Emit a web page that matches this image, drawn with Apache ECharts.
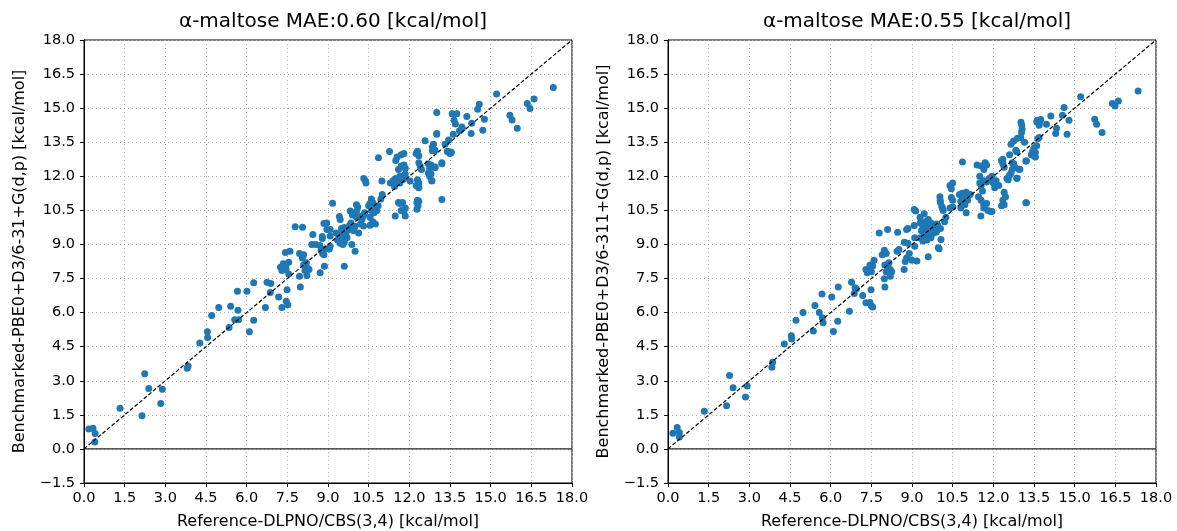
<!DOCTYPE html>
<html>
<head>
<meta charset="utf-8">
<script src="https://cdn.jsdelivr.net/npm/echarts@6/dist/echarts.min.js"></script>
<style>
html,body{margin:0;padding:0;background:#fff;}
#chart{width:1177px;height:531px;}
</style>
</head>
<body>
<div id="chart"></div>
<script>
const titles = ["α-maltose MAE:0.60 [kcal/mol]", "α-maltose MAE:0.55 [kcal/mol]"];
const xName = "Reference-DLPNO/CBS(3,4) [kcal/mol]";
const yNames = ["Benchmarked-PBE0+D3/6-31+G(d,p) [kcal/mol]", "Benchmarked-PBE0+D3/6-311+G(d,p) [kcal/mol]"];
const axisMinX = 0, axisMaxX = 18, axisMinY = -1.5, axisMaxY = 18, tickStep = 1.5;
const diagonal = [[0, 0], [18, 18]];
const zeroLine = [[0, 0], [18, 0]];

const pointsLeft = [
[0.18,0.88],[0.33,0.91],[0.41,0.68],[0.40,0.30],[1.33,1.79],[2.14,1.46],[2.24,3.31],[2.39,2.66],[2.89,2.63],[2.83,2.00],
[3.81,3.55],[3.84,3.65],[4.27,4.66],[4.55,5.16],[4.56,4.91],[4.71,5.87],[4.97,6.23],[5.35,5.35],[5.41,6.28],[5.56,5.69],
[5.68,6.10],[5.70,5.69],[5.66,6.94],[6.01,6.94],[6.10,5.16],
[6.26,7.31],[6.26,5.66],[6.69,6.23],[6.75,7.34],[6.89,7.28],[6.87,6.89],[7.18,6.69],[7.30,6.23],[7.46,6.50],[7.49,7.01],[7.52,6.35],
[7.25,8.0],[7.35,8.15],[7.45,8.1],[7.3,7.85],[7.45,7.9],[7.55,7.7],[7.55,8.22],[7.43,8.65],[7.6,8.7],
[7.79,9.78],[8.06,9.76],[7.95,8.6],[8.1,8.55],[8.05,8.4],
[8.1,8.1],[8.2,8.2],[8.25,7.95],[8.3,7.9],[8.15,7.85],
[7.95,7.6],[8.22,7.63],[7.98,7.13],
[8.4,9.0],[8.55,9.0],[8.7,8.95],[8.44,9.44],
[8.75,8.75],[8.9,8.8],[8.8,8.6],[8.85,8.55],[9.05,8.8],
[8.71,7.75],[8.87,8.04],[8.79,9.26],[8.79,9.35],[8.85,9.92],[8.95,9.95],[8.96,9.66],
[9.17,10.81],[9.42,10.23],[9.45,10.1],
[9.5,9.7],[9.55,9.6],[9.6,9.75],[9.7,9.6],[9.75,9.65],[9.65,9.45],[9.8,9.85],[9.85,9.95],
[9.6,8.04],[9.88,9.0],[10.0,8.7],[10.13,9.51],[9.9,10.3],[10.05,10.2],[10.05,10.75],[10.1,10.65],[10.25,10.25],[10.2,9.9],
[9.3,9.5],[9.4,9.4],[9.5,9.3],[9.35,9.2],[9.45,9.05],[9.6,9.1],[9.7,9.3],[9.95,9.6],[10.0,9.8],[9.55,9.0],[9.08,9.66],[9.08,9.37],[9.08,8.92],
[10.31,9.81],[10.3,10.25],[10.35,10.4],[10.25,10.1],[10.05,10.45],[9.82,10.47],
[10.32,11.9],[10.4,11.7],[10.38,11.8],
[10.6,11.0],[10.55,10.8],[10.65,10.85],[10.5,10.7],[10.6,10.5],[10.75,10.6],[10.7,10.4],[10.8,10.5],[10.85,10.7],[11.0,11.2],[10.95,11.0],
[10.55,10.2],[10.65,10.0],[10.75,9.9],[10.55,9.85],
[10.99,11.79],[10.86,12.82],[11.27,13.09],
[11.5,12.7],[11.55,12.85],[11.7,12.95],[11.8,13.0],
[11.6,12.3],[11.7,12.45],[11.8,12.5],[11.85,12.35],
[11.3,11.7],[11.4,11.8],[11.5,11.9],[11.55,11.75],[11.65,11.7],[11.45,11.55],[11.65,12.0],[11.75,11.85],[11.8,11.9],[11.85,12.1],
[11.6,10.85],[11.65,10.8],[11.7,10.5],[11.8,10.45],[11.85,10.6],[11.75,10.85],
[11.48,10.25],[11.85,10.25],[12.03,11.79],
[12.25,13.0],[12.3,13.1],[12.35,12.9],
[12.35,12.6],[12.4,12.45],[12.45,12.3],
[12.3,11.85],[12.35,11.7],[12.25,11.6],[12.35,11.5],[12.32,11.55],
[12.3,10.95],[12.35,10.9],[12.28,10.85],[12.32,10.7],[12.28,10.55],
[12.58,13.56],[12.85,13.12],[12.95,13.15],
[12.7,12.55],[12.8,12.5],[12.75,12.35],[12.7,12.15],[12.8,12.1],[12.75,12.0],
[12.83,11.79],[12.95,12.38],[13.01,13.85],[12.89,13.41],[13.2,10.98],[13.2,12.6],
[13.4,13.1],[13.5,13.0],[13.55,13.05],[13.45,13.6],[13.7,14.3],[13.85,14.0],[13.95,14.1],
[17.31,15.91],[16.6,15.4],[16.35,15.2],[16.45,14.98],[15.71,14.69],[15.79,14.48],[15.98,14.12],[15.22,15.62],[14.58,15.17],[14.52,14.95],
[14.77,14.51],[14.71,14.03],[14.3,14.34],[14.28,13.88],[14.12,14.63],[13.94,14.17],[13.01,14.81],[13.58,14.75],[13.75,14.75],[13.65,14.47],
[13.62,13.85],[13.01,13.88],[13.32,13.41],[12.85,13.3],[13.43,13.07],[13.53,13.07],[13.2,12.55],[12.95,12.41],[12.83,11.82]
];

const pointsRight = [
[0.18,0.69],[0.34,0.94],[0.42,0.72],[0.42,0.53],[1.34,1.66],[2.16,1.90],[2.27,3.23],[2.40,2.69],[2.92,2.77],[2.86,2.29],
[3.83,3.60],[3.86,3.81],[4.29,4.62],[4.55,4.98],[4.56,4.84],[4.72,5.66],[4.98,6.01],[5.36,5.19],[5.42,6.31],[5.58,6.01],
[5.69,5.77],[5.72,5.55],[5.68,6.82],[6.04,6.69],[6.10,5.17],
[6.28,7.13],[6.26,5.62],[6.69,6.06],[6.77,7.34],[6.9,7.1],[6.95,7.05],[6.87,6.84],[7.18,6.75],[7.30,6.43],[7.45,6.45],[7.5,6.3],[7.55,6.25],[7.49,7.01],
[7.3,7.9],[7.4,7.85],[7.45,8.1],[7.55,8.05],[7.35,7.75],[7.5,7.8],[7.6,8.3],
[7.79,9.51],[8.1,9.66],[7.9,8.55],[8.05,8.6],[7.98,8.75],
[8.0,8.1],[8.1,8.0],[8.2,7.9],[8.25,7.8],[8.15,8.2],[8.2,7.6],[8.05,7.8],
[7.98,7.49],[8.0,7.13],[8.47,9.54],[8.45,8.7],[8.52,8.78],[8.72,9.1],[8.85,9.05],[8.71,7.9],[8.8,9.66],[8.85,9.7],
[8.8,8.4],[8.75,8.25],[8.9,8.6],[9.0,8.3],[9.08,9.84],[9.18,8.27],[9.14,10.47],
[9.3,10.2],[9.45,10.35],[9.6,10.1],[9.5,10.0],
[9.4,9.7],[9.5,9.75],[9.6,9.6],[9.75,9.7],[9.65,9.45],[9.85,9.8],[9.9,9.9],[9.8,9.5],
[9.6,8.46],[10.0,8.81],[10.1,10.67],[10.15,10.5],[10.12,10.6],[10.2,10.0],[10.25,10.2],
[9.08,10.54],[9.1,9.29],[9.1,8.92],
[9.3,9.95],[9.4,9.85],[9.5,9.9],[9.6,10.0],[9.7,9.95],[9.35,9.6],[9.5,9.65],[9.65,9.7],[9.75,9.75],[9.85,9.8],
[9.95,9.85],[10.05,9.7],[9.45,9.4],[9.6,9.45],[9.75,9.5],[9.9,9.55],[9.3,9.3],[9.4,9.15],[9.55,9.2],[9.7,9.3],
[9.97,8.85],[10.07,9.22],
[10.05,10.85],[10.03,11.1],[10.04,10.95],
[10.4,10.6],[10.5,10.65],[10.4,11.6],[10.45,11.45],[10.5,11.7],[10.45,11.07],[10.5,10.95],
[10.75,11.2],[10.85,11.25],[10.8,10.9],
[10.86,12.63],[10.8,10.6],[10.95,10.75],[10.9,11.0],
[11.0,11.3],[10.95,11.1],[11.05,10.95],[11.15,11.2],[11.0,10.4],
[11.4,12.5],[11.55,12.45],[11.7,12.6],[11.65,12.3],[11.75,12.5],[11.5,12.0],[11.85,11.9],
[11.5,11.7],[11.55,11.6],[11.65,11.8],[11.75,11.75],[11.6,11.35],[11.45,11.1],[11.55,10.95],[11.65,10.75],[11.75,10.8],[11.65,10.6],
[11.54,10.25],[11.8,10.5],[11.9,10.45],[11.95,10.45],
[12.0,11.7],[11.95,12.0],[12.1,11.8],[12.05,11.5],[12.2,11.6],
[12.3,12.7],[12.35,12.55],[12.4,12.4],[12.35,12.75],
[12.4,11.3],[12.45,11.1],[12.35,10.95],[12.4,10.75],[12.3,10.7],
[12.5,11.9],[12.6,12.05],[12.65,12.15],[12.7,12.3],[12.55,11.85],
[12.65,13.41],[12.86,13.08],[12.6,12.95],[12.7,12.6],[12.75,12.55],[12.8,12.4],[12.95,12.31],[12.87,11.91],[13.2,10.84],[13.01,13.71],
[13.06,14.07],[13.02,14.38],[12.75,13.55],[13.15,13.5],[13.4,12.95],[13.5,12.9],[13.55,12.85],[13.2,12.67],[13.5,13.25],[13.6,13.35],
[13.69,13.71],[13.6,14.4],[13.7,14.35],[13.75,14.5],
[17.34,15.76],[16.61,15.31],[16.39,15.2],[16.49,15.1],[15.74,14.51],[15.81,14.29],[16.01,13.93],[15.22,15.5],[14.61,15.03],[14.55,14.69],
[14.79,14.47],[14.72,13.85],[14.12,14.66],[13.96,14.29],[14.33,14.12],[14.3,13.88],[13.62,14.47],[13.69,14.25],[13.05,14.25],[13.04,13.93],
[12.89,13.67],[13.64,13.65],[12.83,13.15],[13.45,13.1],[13.55,13.05],[13.22,12.67],[12.98,12.31],[12.87,11.91],[13.22,10.84]
];

const FONT = "DejaVu Sans";
const fmt = v => v.toFixed(1).replace('-', '\u2212');
const chart = echarts.init(document.getElementById('chart'), null, {renderer: 'canvas'});
const grids = [
  {left: 84, top: 40, width: 488, height: 443},
  {left: 668, top: 40, width: 488, height: 443}
];
function xAxis(i) {
  return {
    gridIndex: i, type: 'value', min: axisMinX, max: axisMaxX, interval: tickStep,
    name: xName, nameLocation: 'middle', nameGap: 31,
    nameTextStyle: {fontFamily: FONT, fontSize: 16, color: '#000'},
    axisLine: {show: true, onZero: false, lineStyle: {color: '#000', width: 1}},
    axisTick: {show: true, inside: false, length: 4, lineStyle: {color: '#000'}},
    axisLabel: {fontFamily: FONT, fontSize: 14.5, color: '#000', margin: 8, formatter: fmt},
    splitLine: {show: true, lineStyle: {type: [1, 3], color: '#b0b0b0', width: 1}}
  };
}
function yAxis(i) {
  return {
    gridIndex: i, type: 'value', min: axisMinY, max: axisMaxY, interval: tickStep,
    name: yNames[i], nameLocation: 'middle', nameGap: 56, nameRotate: 90,
    nameTextStyle: {fontFamily: FONT, fontSize: 16, color: '#000'},
    axisLine: {show: true, onZero: false, lineStyle: {color: '#000', width: 1}},
    axisTick: {show: true, inside: false, length: 4, lineStyle: {color: '#000'}},
    axisLabel: {fontFamily: FONT, fontSize: 14.5, color: '#000', margin: 9, formatter: fmt},
    splitLine: {show: true, lineStyle: {type: [1, 3], color: '#b0b0b0', width: 1}}
  };
}
const series = [];
[pointsLeft, pointsRight].forEach((pts, i) => {
  series.push({
    type: 'line', xAxisIndex: i, yAxisIndex: i, data: zeroLine, symbol: 'none', silent: true,
    lineStyle: {color: '#222', width: 1.3}, z: 2
  });
  series.push({
    type: 'scatter', xAxisIndex: i, yAxisIndex: i, data: pts, symbolSize: 7,
    itemStyle: {color: '#1f77b4', opacity: 1}, z: 3
  });
  series.push({
    type: 'line', xAxisIndex: i, yAxisIndex: i, data: diagonal, symbol: 'none', silent: true,
    lineStyle: {color: '#000', width: 1.2, type: [4, 2]}, z: 4
  });
});
chart.setOption({
  animation: false,
  backgroundColor: '#fff',
  title: titles.map((t, i) => ({
    text: t, left: grids[i].left + grids[i].width / 2, top: 7, textAlign: 'center',
    textStyle: {fontFamily: FONT, fontSize: 20, fontWeight: 'normal', color: '#000'}
  })),
  grid: grids.map(g => Object.assign({show: true, borderColor: '#000', borderWidth: 1, backgroundColor: 'transparent', containLabel: false, outerBoundsMode: 'none'}, g)),
  xAxis: [xAxis(0), xAxis(1)],
  yAxis: [yAxis(0), yAxis(1)],
  series: series
});
</script>
</body>
</html>
